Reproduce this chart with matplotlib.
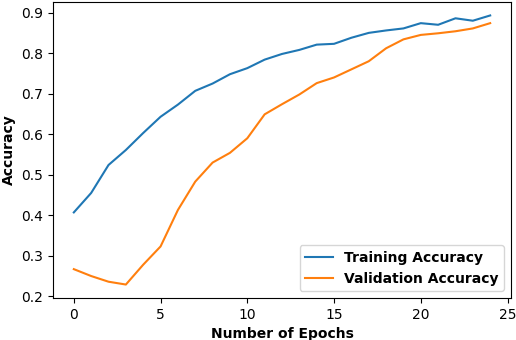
import matplotlib
matplotlib.use("Agg")
import matplotlib.pyplot as plt

epochs = list(range(25))
train_acc = [0.407, 0.455, 0.524, 0.561, 0.603, 0.643, 0.673, 0.707, 0.725, 0.748,
             0.763, 0.784, 0.798, 0.808, 0.821, 0.823, 0.838, 0.850, 0.856, 0.861,
             0.874, 0.870, 0.886, 0.880, 0.893]
val_acc = [0.267, 0.250, 0.236, 0.229, 0.278, 0.323, 0.413, 0.483, 0.530, 0.554,
           0.590, 0.649, 0.674, 0.698, 0.726, 0.740, 0.760, 0.780, 0.812, 0.834,
           0.845, 0.849, 0.854, 0.861, 0.874]

fig = plt.figure(figsize=(5.16, 3.40), dpi=100)
ax = fig.add_axes([53/516, 42/340, 458/516, 296/340])
ax.plot(epochs, train_acc, label="Training Accuracy")
ax.plot(epochs, val_acc, label="Validation Accuracy")
ax.set_xticks([0, 5, 10, 15, 20, 25])
ax.set_yticks([0.2, 0.3, 0.4, 0.5, 0.6, 0.7, 0.8, 0.9])
ax.set_xlabel("Number of Epochs", fontweight="bold")
ax.set_ylabel("Accuracy", fontweight="bold")
ax.legend(loc="lower right", prop={"weight": "bold"})
fig.savefig("out.png", dpi=100)
